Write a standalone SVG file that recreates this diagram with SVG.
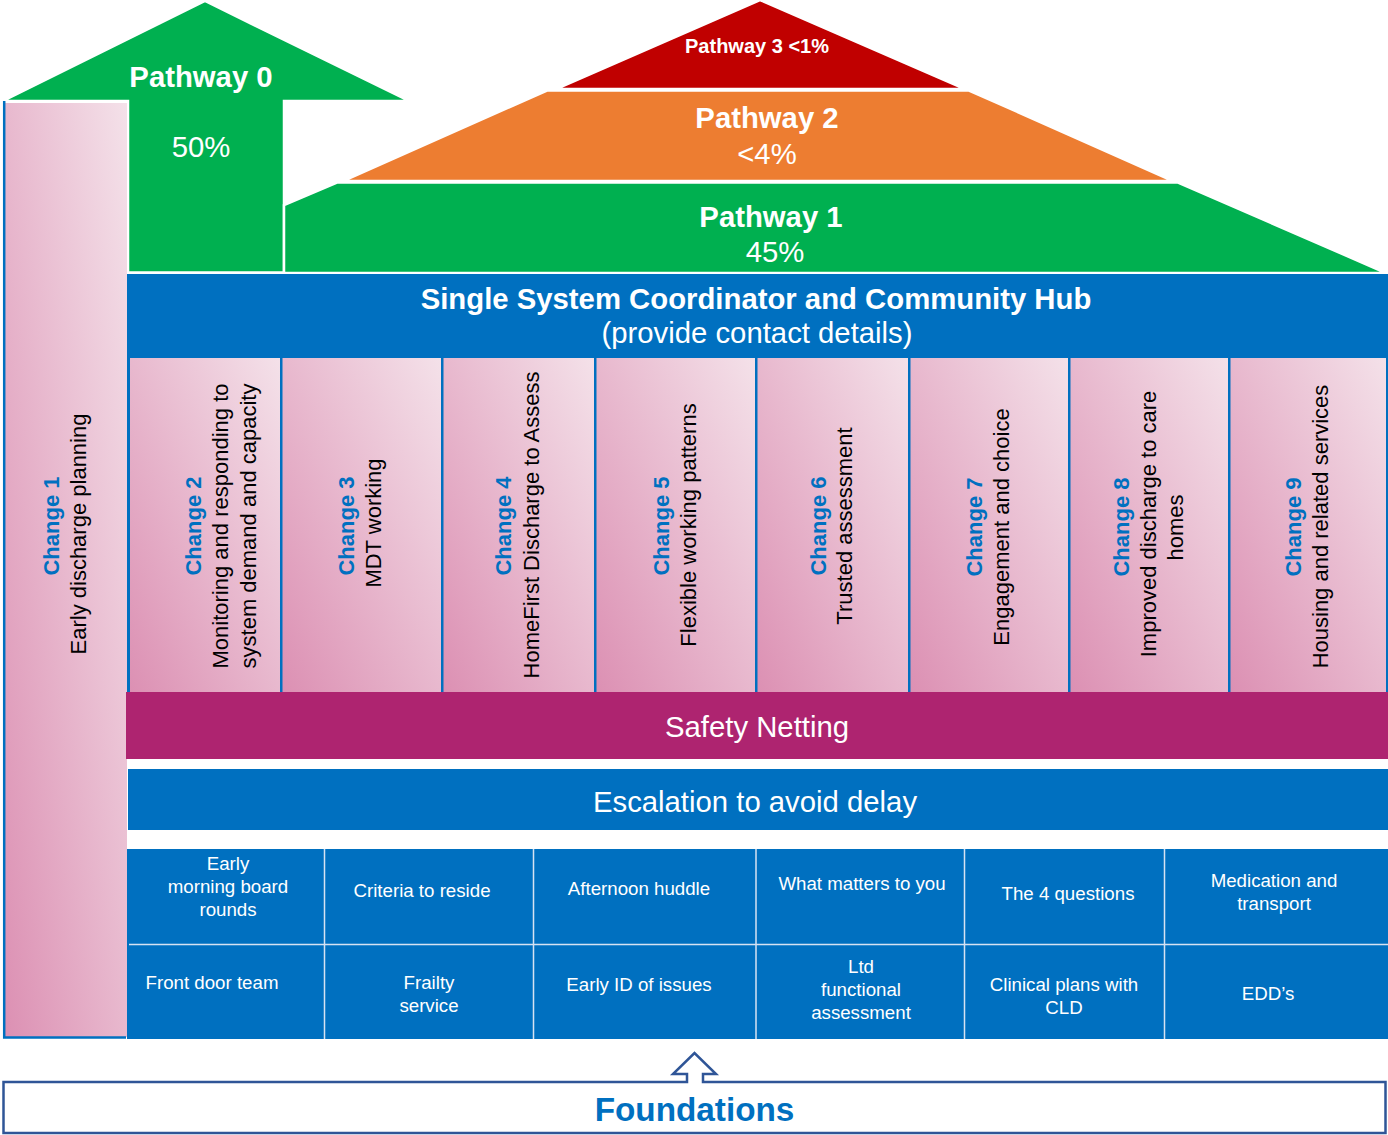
<svg xmlns="http://www.w3.org/2000/svg" width="1388" height="1135" viewBox="0 0 1388 1135">
  <defs>
    <linearGradient id="pink" x1="0" y1="1" x2="1" y2="0">
      <stop offset="0" stop-color="#dc90b3"/>
      <stop offset="1" stop-color="#f4e1e9"/>
    </linearGradient>
  </defs>
  <style>
    text { font-family: "Liberation Sans", Arial, sans-serif; }
    .roof { stroke: #fff; stroke-width: 2.5; }
    .green { fill: #00b050; }
    .lbl { fill: #fff; font-size: 29.3px; text-anchor: middle; }
    .bold { font-weight: bold; }
    .col { fill: url(#pink); }
    .chg { font-size: 22px; text-anchor: middle; fill: #000; }
    .num { fill: #0070c0; font-weight: bold; }
    .blue { fill: #0070c0; }
    .cell { fill: #fff; font-size: 18.7px; text-anchor: middle; }
    .div { stroke: #d6e2f2; stroke-width: 1.5; fill: none; }
  </style>

  <rect width="1388" height="1135" fill="#fff"/>

  <!-- Pathway 0: up arrow on the left -->
  <g id="pathway-0">
    <polygon class="green roof" points="3,101 205,1 409,101 284,101 284,272.5 128,272.5 128,101"/>
    <text class="lbl bold" x="201" y="87">Pathway 0</text>
    <text class="lbl" x="201" y="157">50%</text>
  </g>

  <!-- Roof bands -->
  <g id="pathway-1">
    <polygon class="green roof" points="284,205 337,182.5 1178,182.5 1386,273 284,273"/>
    <text class="lbl bold" x="771" y="227">Pathway 1</text>
    <text class="lbl" x="775" y="262">45%</text>
  </g>
  <g id="pathway-2">
    <polygon class="roof" fill="#ed7d31" points="547,90.5 969,90.5 1173,181 343,181"/>
    <text class="lbl bold" x="767" y="128">Pathway 2</text>
    <text class="lbl" x="767" y="164">&lt;4%</text>
  </g>
  <g id="pathway-3">
    <polygon class="roof" fill="#c00000" points="760,0 965,89 556,89"/>
    <text class="lbl bold" x="757" y="53" style="font-size:20px">Pathway 3 &lt;1%</text>
  </g>

  <!-- Change 1: tall left column -->
  <g id="change-1">
    <rect class="col" x="4.5" y="103" width="122.5" height="934"/>
    <path d="M4.2,101 V1037.6 H126" fill="none" stroke="#0070c0" stroke-width="2.5"/>
    <text class="chg num" transform="translate(59,526) rotate(-90)">Change 1</text>
    <text class="chg" transform="translate(86,534) rotate(-90)">Early discharge planning</text>
  </g>

  <!-- Hub band with the column frame behind the changes -->
  <g id="hub">
    <rect class="blue" x="127" y="274" width="1261" height="418"/>
    <text class="lbl bold" x="756" y="309">Single System Coordinator and Community Hub</text>
    <text class="lbl" x="757" y="343">(provide contact details)</text>
  </g>

  <g id="change-2">
    <rect class="col" x="130" y="358" width="150" height="334"/>
    <text class="chg num" transform="translate(200.5,526) rotate(-90)">Change 2</text>
    <text class="chg" transform="translate(228,526) rotate(-90)">Monitoring and responding to</text>
    <text class="chg" transform="translate(256,526) rotate(-90)">system demand and capacity</text>
  </g>
  <g id="change-3">
    <rect class="col" x="282.5" y="358" width="158.5" height="334"/>
    <text class="chg num" transform="translate(354,526) rotate(-90)">Change 3</text>
    <text class="chg" transform="translate(381,523) rotate(-90)">MDT working</text>
  </g>
  <g id="change-4">
    <rect class="col" x="443.5" y="358" width="150.5" height="334"/>
    <text class="chg num" transform="translate(511,526) rotate(-90)">Change 4</text>
    <text class="chg" transform="translate(539,525) rotate(-90)">HomeFirst Discharge to Assess</text>
  </g>
  <g id="change-5">
    <rect class="col" x="596.5" y="358" width="158.5" height="334"/>
    <text class="chg num" transform="translate(669,526) rotate(-90)">Change 5</text>
    <text class="chg" transform="translate(696,525) rotate(-90)">Flexible working patterns</text>
  </g>
  <g id="change-6">
    <rect class="col" x="757.5" y="358" width="150.5" height="334"/>
    <text class="chg num" transform="translate(826,526) rotate(-90)">Change 6</text>
    <text class="chg" transform="translate(852,526) rotate(-90)">Trusted assessment</text>
  </g>
  <g id="change-7">
    <rect class="col" x="910.5" y="358" width="157.5" height="334"/>
    <text class="chg num" transform="translate(982,527) rotate(-90)">Change 7</text>
    <text class="chg" transform="translate(1009,527) rotate(-90)">Engagement and choice</text>
  </g>
  <g id="change-8">
    <rect class="col" x="1070.5" y="358" width="157.5" height="334"/>
    <text class="chg num" transform="translate(1128.5,527) rotate(-90)">Change 8</text>
    <text class="chg" transform="translate(1155.5,524) rotate(-90)">Improved discharge to care</text>
    <text class="chg" transform="translate(1182.5,527.5) rotate(-90)">homes</text>
  </g>
  <g id="change-9">
    <rect class="col" x="1230.5" y="358" width="155.5" height="334"/>
    <text class="chg num" transform="translate(1300.5,527) rotate(-90)">Change 9</text>
    <text class="chg" transform="translate(1327.5,526.5) rotate(-90)">Housing and related services</text>
  </g>

  <g id="safety-netting">
    <rect x="126" y="692" width="1262" height="67" fill="#ae2470"/>
    <text class="lbl" x="757" y="737">Safety Netting</text>
  </g>

  <g id="escalation">
    <rect class="blue" x="128" y="769" width="1260" height="61"/>
    <text class="lbl" x="755" y="812">Escalation to avoid delay</text>
  </g>

  <!-- Grid of supporting practices -->
  <g id="practice-grid">
    <rect class="blue" x="127" y="849" width="1261" height="190"/>
  </g>
  <g id="connectors">
    <path class="div" d="M129,944.5 H1388 M324.5,849 V1039 M533.5,849 V1039 M756,849 V1039 M964.5,849 V1039 M1164.5,849 V1039"/>
  </g>
  <g id="cell-board-rounds">
    <text class="cell" x="228" y="870">Early</text>
    <text class="cell" x="228" y="893">morning board</text>
    <text class="cell" x="228" y="916">rounds</text>
  </g>
  <g id="cell-criteria"><text class="cell" x="422" y="897">Criteria to reside</text></g>
  <g id="cell-huddle"><text class="cell" x="639" y="895">Afternoon huddle</text></g>
  <g id="cell-what-matters"><text class="cell" x="862" y="890">What matters to you</text></g>
  <g id="cell-4-questions"><text class="cell" x="1068" y="900">The 4 questions</text></g>
  <g id="cell-medication">
    <text class="cell" x="1274" y="887">Medication and</text>
    <text class="cell" x="1274" y="910">transport</text>
  </g>
  <g id="cell-front-door"><text class="cell" x="212" y="989">Front door team</text></g>
  <g id="cell-frailty">
    <text class="cell" x="429" y="989">Frailty</text>
    <text class="cell" x="429" y="1012">service</text>
  </g>
  <g id="cell-early-id"><text class="cell" x="639" y="991">Early ID of issues</text></g>
  <g id="cell-functional">
    <text class="cell" x="861" y="972.5">Ltd</text>
    <text class="cell" x="861" y="995.5">functional</text>
    <text class="cell" x="861" y="1018.5">assessment</text>
  </g>
  <g id="cell-clinical-plans">
    <text class="cell" x="1064" y="990.5">Clinical plans with</text>
    <text class="cell" x="1064" y="1013.5">CLD</text>
  </g>
  <g id="cell-edd"><text class="cell" x="1268" y="1000">EDD’s</text></g>

  <!-- Foundations box with its up arrow -->
  <g id="foundations">
    <path d="M3.5,1082 H687 V1074 H673 L694.5,1053 L716,1074 H703 V1082 H1385.5 V1133 H3.5 Z" fill="#fff" stroke="#2f5597" stroke-width="2.5" stroke-linejoin="miter"/>
    <text x="694.5" y="1121" fill="#0070c0" font-weight="bold" font-size="33.3" text-anchor="middle">Foundations</text>
  </g>
</svg>
